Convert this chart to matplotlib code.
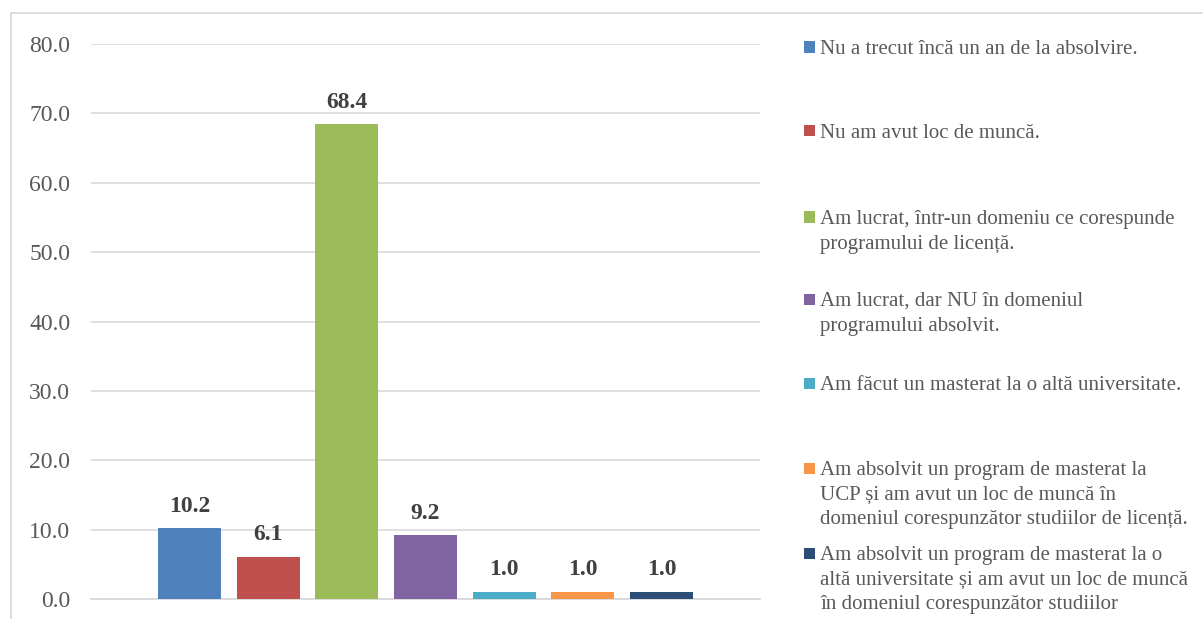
import matplotlib
matplotlib.use("Agg")
import matplotlib.pyplot as plt
from matplotlib.patches import Rectangle

categories = [
    "Nu a trecut încă un an de la absolvire.",
    "Nu am avut loc de muncă.",
    "Am lucrat, într-un domeniu ce corespunde\nprogramului de licență.",
    "Am lucrat, dar NU în domeniul\nprogramului absolvit.",
    "Am făcut un masterat la o altă universitate.",
    "Am absolvit un program de masterat la\nUCP și am avut un loc de muncă în\ndomeniul corespunzător studiilor de licență.",
    "Am absolvit un program de masterat la o\naltă universitate și am avut un loc de muncă\nîn domeniul corespunzător studiilor",
]
values = [10.2, 6.1, 68.4, 9.2, 1.0, 1.0, 1.0]
colors = ["#4F81BD", "#C0504D", "#9BBB59", "#8064A2", "#4BACC6", "#F79646", "#2C4D75"]
yticks = [0, 10, 20, 30, 40, 50, 60, 70, 80]

W, H = 1203, 619
plt.rcParams['font.family'] = ['Liberation Serif', 'DejaVu Serif']
fig = plt.figure(figsize=(W / 100, H / 100), dpi=100)
fig.patch.set_facecolor("white")

# chart border
fig.add_artist(Rectangle((11 / W, -0.2), 1.2, (H - 13) / H + 0.2, transform=fig.transFigure,
                         fill=False, edgecolor="#D9D9D9", linewidth=1.3))

ax = fig.add_axes([91 / W, (H - 599) / H, (760 - 91) / W, (599 - 44) / H])
x = list(range(len(values)))
ax.bar(x, values, width=0.8, color=colors, zorder=3)
ax.set_xlim(-1.25, 7.25)
ax.set_ylim(0, 80)
ax.set_yticks(yticks)
ax.set_yticklabels([f"{v:.1f}" for v in yticks], fontsize=17, color="#595959")
ax.tick_params(axis="y", length=0, pad=15)
ax.set_xticks([])
ax.grid(axis="y", color="#D9D9D9", linewidth=1.2, zorder=0)
for s in ["top", "right", "left"]:
    ax.spines[s].set_visible(False)
ax.spines["bottom"].set_color("#D9D9D9")
ax.spines["bottom"].set_linewidth(1.3)
ax.set_facecolor("none")

for xi, v in zip(x, values):
    ax.annotate(f"{v:.1f}", (xi, v), xytext=(0, 12), textcoords="offset points",
                ha="center", va="baseline", fontsize=17, fontweight="bold", color="#404040")

# legend
first_line_y = [47, 131, 217, 299, 383, 468, 553]
step = 24.7
for lab, col, y0 in zip(categories, colors, first_line_y):
    fig.add_artist(Rectangle((804 / W, (H - y0 - 5.5) / H), 11 / W, 11 / H,
                             transform=fig.transFigure, facecolor=col, edgecolor="none"))
    for k, line in enumerate(lab.split("\n")):
        yb = y0 + 7 + k * step
        fig.text(820 / W, (H - yb) / H, line, fontsize=15, color="#595959",
                 ha="left", va="baseline")

fig.savefig("out.png", dpi=100, facecolor="white")
